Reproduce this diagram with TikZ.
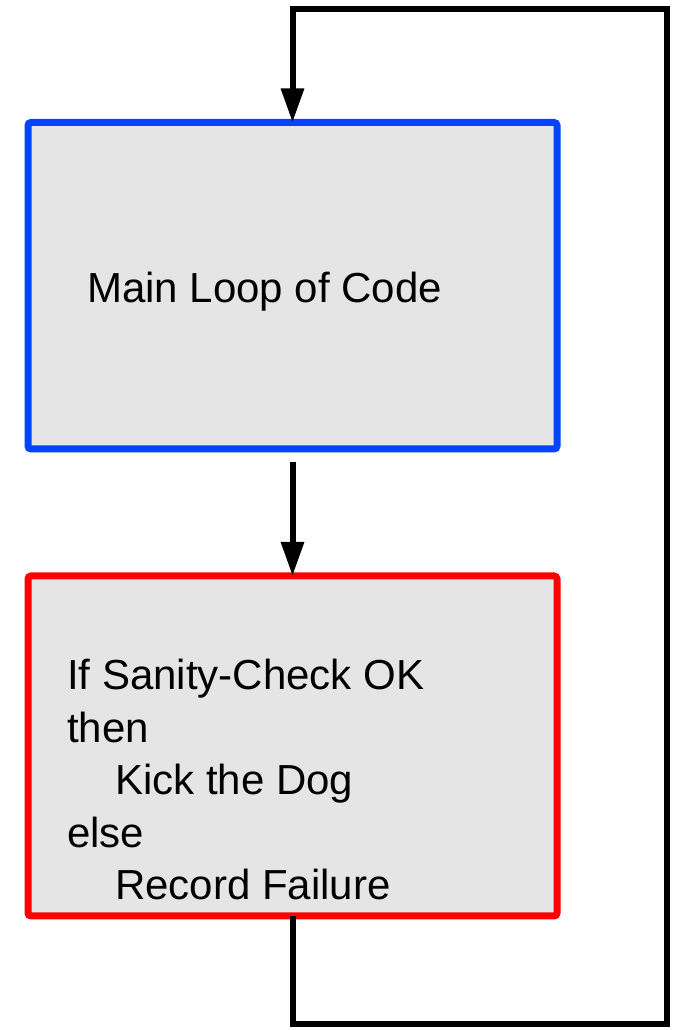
\documentclass[tikz,border=0pt]{standalone}
\usepackage{fontspec}
\setmainfont{Liberation Sans}
\usetikzlibrary{arrows.meta}
\usetikzlibrary{calc}
\definecolor{boxgray}{HTML}{E5E5E5}
\definecolor{loopblue}{HTML}{0044FF}
\tikzset{
	codebox/.style={draw,fill=boxgray,line width=7pt,rounded corners=3pt,outer sep=0pt,minimum width=529pt},
	boxtext/.style={inner sep=0pt,align=left,font=\fontsize{42}{52.5}\selectfont},
	flow/.style={line width=6pt,-{Triangle[length=34pt,width=22pt]}}
}

\begin{document}
\begin{tikzpicture}[x=1pt,y=1pt]

	\useasboundingbox (0,0) rectangle (673,1030);

	\node[codebox,draw=loopblue,minimum height=326.5pt] (mainloop) at (292.5,744.25) {};
	\node[codebox,draw=red,minimum height=340pt] (check) at (292.5,284) {};

	\node[boxtext,anchor=base west] (maintext) at (87,727) {Main Loop of Code};
	\node[boxtext,anchor=north west] (checktext) at (67,371) {If Sanity-Check OK\\
	then\\
	\hspace*{48pt}Kick the Dog\\
	else\\
	\hspace*{48pt}Record Failure};

	\coordinate (bottomright) at (667,6);
	\coordinate (topright) at (667,1021);

	\draw[flow] ([yshift=-13pt]mainloop.south) -- (check.north);
	\draw[flow] (check.south) -- (check.south |- bottomright) -- (bottomright)
	-- (topright) -- (mainloop.north |- topright) -- (mainloop.north);

\end{tikzpicture}
\end{document}
